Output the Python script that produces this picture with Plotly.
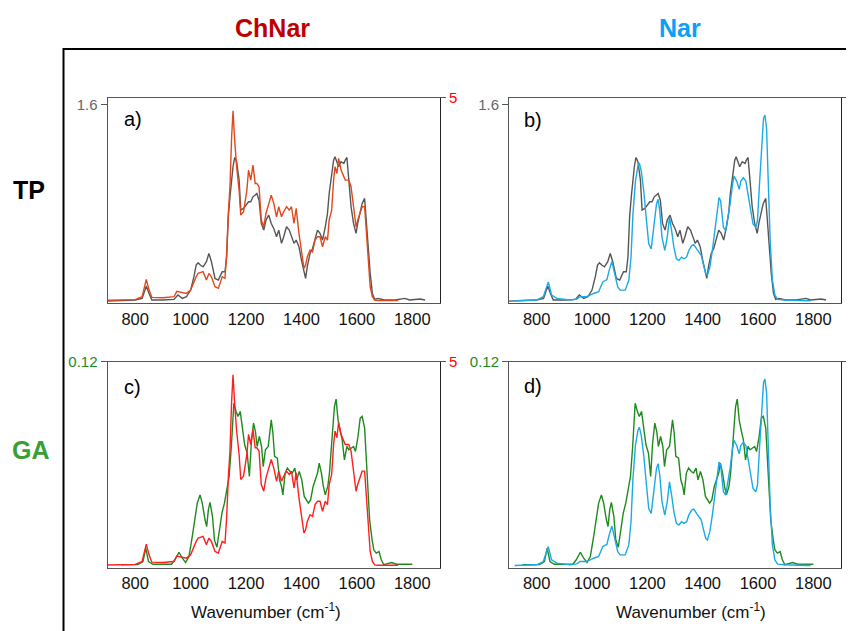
import plotly.graph_objects as go

# ---------------- data ----------------
tp_wn = [700, 760, 800, 825, 840, 850, 860, 900, 940, 954, 970, 985, 1000, 1012, 1020, 1027, 1035, 1045, 1057, 1066,
         1075, 1088, 1100, 1114, 1124, 1130, 1136, 1142, 1148, 1153, 1159, 1166, 1175, 1181, 1191, 1203, 1209, 1217,
         1225, 1233, 1239, 1247, 1255, 1264, 1272, 1282, 1291, 1300, 1310, 1318, 1328, 1336, 1346, 1356, 1364, 1373,
         1381, 1391, 1400, 1409, 1415, 1421, 1431, 1440, 1449, 1458, 1467, 1476, 1486, 1494, 1500, 1509, 1516, 1521,
         1528, 1534, 1543, 1553, 1558, 1564, 1571, 1579, 1588, 1597, 1603, 1612, 1619, 1628, 1634, 1640, 1648, 1656,
         1664, 1676, 1700, 1737, 1773, 1790, 1828, 1846]
tp_val = [0.013, 0.016, 0.022, 0.035, 0.134, 0.075, 0.022, 0.022, 0.027, 0.062, 0.035, 0.048, 0.102, 0.21, 0.304,
          0.323, 0.304, 0.29, 0.331, 0.398, 0.331, 0.196, 0.183, 0.25, 0.25, 0.371, 0.694, 0.855, 1.017, 1.098, 1.173,
          1.138, 0.99, 0.748, 0.761, 0.802, 0.815, 0.815, 0.855, 0.869, 0.882, 0.828, 0.64, 0.586, 0.667, 0.707, 0.64,
          0.6, 0.533, 0.586, 0.479, 0.533, 0.613, 0.586, 0.533, 0.479, 0.506, 0.452, 0.344, 0.237, 0.196, 0.291, 0.398,
          0.438, 0.519, 0.586, 0.56, 0.506, 0.613, 0.721, 0.882, 1.044, 1.151, 1.178, 1.124, 1.098, 1.138, 1.124,
          1.151, 1.173, 0.99, 0.775, 0.64, 0.56, 0.64, 0.748, 0.802, 0.842, 0.667, 0.425, 0.237, 0.075, 0.027, 0.035,
          0.022, 0.022, 0.035, 0.022, 0.03, 0.022]

chnar_wn = [700, 760, 800, 825, 840, 850, 860, 900, 940, 950, 965, 985, 1000, 1012, 1020, 1027, 1035, 1045, 1057,
            1066, 1075, 1088, 1100, 1114, 1124, 1130, 1136, 1142, 1148, 1153, 1159, 1166, 1175, 1181, 1191, 1203, 1209,
            1217, 1225, 1233, 1239, 1247, 1255, 1264, 1272, 1282, 1291, 1300, 1310, 1318, 1328, 1336, 1346, 1356, 1364,
            1373, 1381, 1391, 1400, 1409, 1415, 1421, 1431, 1440, 1449, 1458, 1467, 1476, 1486, 1494, 1500, 1509, 1516,
            1521, 1528, 1534, 1543, 1553, 1558, 1564, 1571, 1579, 1588, 1597, 1603, 1612, 1619, 1628, 1634, 1640, 1648,
            1656, 1664, 1676, 1749]
chnar_val = [0.06, 0.065, 0.075, 0.146, 0.568, 0.308, 0.13, 0.122, 0.146, 0.276, 0.26, 0.227, 0.308, 0.511, 0.633,
             0.714, 0.73, 0.755, 0.552, 0.714, 0.633, 0.39, 0.349, 0.633, 0.593, 1.2, 2.175, 2.825, 4.042, 4.675, 3.961,
             3.312, 2.744, 2.135, 2.216, 2.744, 3.231, 2.987, 3.352, 2.906, 2.906, 2.825, 2.013, 1.851, 2.175, 2.419,
             2.622, 2.419, 2.094, 2.338, 2.094, 2.216, 2.338, 2.257, 2.338, 1.932, 2.297, 1.688, 1.201, 0.836, 0.917,
             1.12, 1.282, 1.242, 1.526, 1.607, 1.607, 1.364, 1.607, 1.526, 2.013, 2.257, 2.987, 3.312, 3.149, 3.515,
             3.231, 3.068, 2.987, 2.987, 2.987, 2.825, 2.257, 1.851, 2.013, 2.175, 2.338, 2.338, 1.688, 0.958, 0.39,
             0.146, 0.065, 0.055, 0.055]

nar_wn = [720, 800, 824, 842, 854, 873, 921, 945, 957, 981, 1006, 1024, 1039, 1054, 1062, 1072, 1082, 1093, 1102,
          1120, 1133, 1141, 1148, 1157, 1166, 1171, 1178, 1187, 1197, 1205, 1214, 1223, 1233, 1239, 1245, 1253, 1263,
          1272, 1280, 1287, 1296, 1305, 1314, 1324, 1332, 1342, 1350, 1360, 1368, 1378, 1386, 1395, 1402, 1411, 1417,
          1426, 1435, 1443, 1451, 1459, 1465, 1475, 1483, 1489, 1499, 1508, 1513, 1523, 1532, 1538, 1547, 1556, 1564,
          1574, 1582, 1592, 1598, 1606, 1614, 1620, 1625, 1631, 1637, 1644, 1652, 1661, 1671, 1695, 1779, 1790]
nar_val = [0.039, 0.052, 0.116, 0.406, 0.148, 0.084, 0.052, 0.071, 0.116, 0.116, 0.18, 0.213, 0.406, 0.451, 0.631,
           0.805, 0.567, 0.309, 0.245, 0.245, 0.438, 0.889, 1.726, 2.37, 2.66, 2.725, 2.564, 2.177, 1.597, 1.146, 1.05,
           1.469, 1.919, 2.016, 1.791, 1.275, 1.018, 1.275, 1.662, 1.436, 1.082, 0.857, 0.824, 0.889, 0.857, 0.889,
           1.018, 1.114, 1.134, 1.05, 0.985, 0.921, 0.76, 0.567, 0.535, 0.696, 1.018, 1.404, 1.726, 2.048, 1.984,
           1.469, 1.404, 1.597, 1.919, 2.306, 2.467, 2.37, 2.209, 2.37, 2.435, 2.37, 2.113, 1.726, 1.533, 1.469, 1.597,
           2.37, 3.143, 3.594, 3.659, 3.401, 2.37, 1.211, 0.438, 0.148, 0.064, 0.052, 0.039, 0.039]

ga_wn = [749, 810, 828, 838, 848, 864, 931, 943, 958, 970, 982, 994, 1006, 1016, 1024, 1034, 1042, 1052, 1058, 1064,
         1070, 1079, 1086, 1095, 1103, 1113, 1122, 1131, 1139, 1147, 1152, 1156, 1164, 1171, 1179, 1185, 1195, 1204,
         1212, 1219, 1227, 1234, 1240, 1248, 1256, 1262, 1270, 1280, 1285, 1291, 1297, 1303, 1313, 1321, 1328, 1333,
         1341, 1349, 1359, 1367, 1376, 1383, 1392, 1401, 1410, 1418, 1425, 1433, 1442, 1450, 1458, 1464, 1472, 1479,
         1486, 1495, 1501, 1510, 1519, 1525, 1532, 1539, 1547, 1555, 1564, 1571, 1579, 1588, 1595, 1604, 1612, 1619,
         1628, 1634, 1640, 1646, 1655, 1661, 1670, 1680, 1688, 1697, 1725, 1743, 1800]
ga_val = [0.0016, 0.0017, 0.0035, 0.0113, 0.0035, 0.0019, 0.0019, 0.0045, 0.0089, 0.0054, 0.0029, 0.0064, 0.0181,
          0.0297, 0.0375, 0.0423, 0.0375, 0.0278, 0.0239, 0.0336, 0.0379, 0.0297, 0.0161, 0.0118, 0.02, 0.0317, 0.0375,
          0.0472, 0.053, 0.0705, 0.086, 0.0957, 0.0909, 0.088, 0.0909, 0.0841, 0.0715, 0.0666, 0.053, 0.0724, 0.0841,
          0.0792, 0.0705, 0.0763, 0.0705, 0.0588, 0.0686, 0.0705, 0.0783, 0.086, 0.0783, 0.0647, 0.0637, 0.0511,
          0.0472, 0.0423, 0.055, 0.0579, 0.0559, 0.055, 0.0579, 0.0511, 0.0559, 0.0511, 0.0414, 0.0394, 0.0375, 0.0394,
          0.0472, 0.0511, 0.055, 0.0608, 0.055, 0.0472, 0.0423, 0.0472, 0.055, 0.0744, 0.0938, 0.0981, 0.086, 0.0802,
          0.0744, 0.0627, 0.0705, 0.0686, 0.0695, 0.0705, 0.0676, 0.0763, 0.087, 0.088, 0.0812, 0.0647, 0.0452, 0.0278,
          0.0161, 0.0103, 0.0084, 0.0093, 0.0045, 0.0016, 0.0029, 0.0019, 0.0019]

x_ticks = [800, 1000, 1200, 1400, 1600, 1800]
col_titles = ["ChNar", "Nar"]
row_titles = ["TP", "GA"]
panel_labels = ["a)", "b)", "c)", "d)"]
x_title = "Wavenumber (cm<sup>-1</sup>)"

# ---------------- styling ----------------
C_TP = "#555555"
C_CHNAR_A = "#E2481C"
C_CHNAR_C = "#FF1F1F"
C_NAR = "#1AAAE6"
C_GA = "#1E8A1E"
FONT = "Arial, Liberation Sans, sans-serif"
# the page body has an 8 px margin, so the figure starts 8 px in from the window corner
OFF = 8
W, H = 854 - OFF, 631 - OFF

def px(x):
    return (x - OFF) / W

def py(y):
    return 1 - (y - OFF) / H

xdom = [[px(107.5), px(440)], [px(509), px(841)]]
ydom = [[py(302.7), py(97.5)], [py(567.5), py(361.5)]]

fig = go.Figure()

panels = [
    (1, 1, 2, 0, 0, (tp_wn, tp_val, C_TP), (chnar_wn, chnar_val, C_CHNAR_A)),
    (2, 3, 4, 1, 0, (tp_wn, tp_val, C_TP), (nar_wn, nar_val, C_NAR)),
    (3, 5, 6, 0, 1, (ga_wn, ga_val, C_GA), (chnar_wn, chnar_val, C_CHNAR_C)),
    (4, 7, 8, 1, 1, (ga_wn, ga_val, C_GA), (nar_wn, nar_val, C_NAR)),
]

left_cfg = {0: dict(range=[0, 1.657], tickvals=[1.6], ticktext=["1.6"], color="#666666"),
            1: dict(range=[0, 0.12], tickvals=[0.12], ticktext=["0.12"], color="#1E8A1E")}
right_cfg = {0: dict(range=[0, 5], tickvals=[5], ticktext=["5"], color="#FF0000"),
             1: dict(range=[0, 4], tickvals=[4], ticktext=["4"], color="#1AAAE6")}

layout_axes = {}
for xi, yl, yr, col, row, ldat, rdat in panels:
    xs = "x" if xi == 1 else f"x{xi}"
    yls = "y" if yl == 1 else f"y{yl}"
    yrs = f"y{yr}"
    fig.add_trace(go.Scatter(x=ldat[0], y=ldat[1], mode="lines", line=dict(color=ldat[2], width=1.4),
                             xaxis=xs, yaxis=yls, showlegend=False))
    fig.add_trace(go.Scatter(x=rdat[0], y=rdat[1], mode="lines", line=dict(color=rdat[2], width=1.4),
                             xaxis=xs, yaxis=yrs, showlegend=False))
    xkey = "xaxis" if xi == 1 else f"xaxis{xi}"
    ylkey = "yaxis" if yl == 1 else f"yaxis{yl}"
    yrkey = f"yaxis{yr}"
    layout_axes[xkey] = dict(domain=xdom[col], anchor=yls, range=[700, 1900], tickvals=x_ticks,
                             showline=True, mirror=True, linecolor="#555555", linewidth=1,
                             ticks="outside", ticklen=1, tickcolor="rgba(0,0,0,0)",
                             tickfont=dict(family=FONT, size=16.5, color="#111111"),
                             showgrid=False, zeroline=False, automargin=False)
    lc = left_cfg[row]
    layout_axes[ylkey] = dict(domain=ydom[row], anchor=xs, range=lc["range"], tickvals=lc["tickvals"],
                              ticktext=lc["ticktext"], showline=True, linecolor="#555555", linewidth=1,
                              ticks="outside", ticklen=6, tickcolor="#555555",
                              tickfont=dict(family=FONT, size=15, color=lc["color"]),
                              showgrid=False, zeroline=False, automargin=False)
    rc = right_cfg[col]
    layout_axes[yrkey] = dict(overlaying=yls, anchor=xs, side="right", range=rc["range"], tickvals=rc["tickvals"],
                              ticktext=rc["ticktext"], showline=True, linecolor="#222222", linewidth=1,
                              ticks="outside", ticklen=5, tickcolor="#555555",
                              tickfont=dict(family=FONT, size=15, color=rc["color"]),
                              showgrid=False, zeroline=False, automargin=False)

annotations = []
for txt, xc, colr in [(col_titles[0], 272, "#C00000"), (col_titles[1], 680, "#0AA0F5")]:
    annotations.append(dict(text=f"<b>{txt}</b>", x=px(xc), y=py(28), xref="paper", yref="paper",
                            showarrow=False, xanchor="center", yanchor="middle",
                            font=dict(family=FONT, size=25, color=colr)))
for txt, xc, yc, colr in [(row_titles[0], 29, 190, "#000000"), (row_titles[1], 31, 450, "#35A035")]:
    annotations.append(dict(text=f"<b>{txt}</b>", x=px(xc), y=py(yc), xref="paper", yref="paper",
                            showarrow=False, xanchor="center", yanchor="middle",
                            font=dict(family=FONT, size=25, color=colr)))
for txt, xl, yc in zip(panel_labels, [122, 522, 122, 522], [119, 120, 387, 386]):
    annotations.append(dict(text=txt, x=px(xl), y=py(yc), xref="paper", yref="paper",
                            showarrow=False, xanchor="left", yanchor="middle",
                            font=dict(family=FONT, size=20, color="#000000")))
for xc in [266, 691]:
    annotations.append(dict(text=x_title, x=px(xc), y=py(611), xref="paper", yref="paper",
                            showarrow=False, xanchor="center", yanchor="middle",
                            font=dict(family=FONT, size=17, color="#111111")))

shapes = [
    dict(type="line", xref="paper", yref="paper", x0=px(63.5), x1=px(63.5), y0=py(48), y1=0,
         line=dict(color="#000000", width=2)),
    dict(type="line", xref="paper", yref="paper", x0=px(63.5), x1=1, y0=py(49), y1=py(49),
         line=dict(color="#000000", width=2)),
]

fig.update_layout(width=W, height=H, margin=dict(l=0, r=0, t=0, b=0, autoexpand=False),
                  paper_bgcolor="white", plot_bgcolor="white",
                  annotations=annotations, shapes=shapes, showlegend=False, **layout_axes)

fig.write_html("out.html")
